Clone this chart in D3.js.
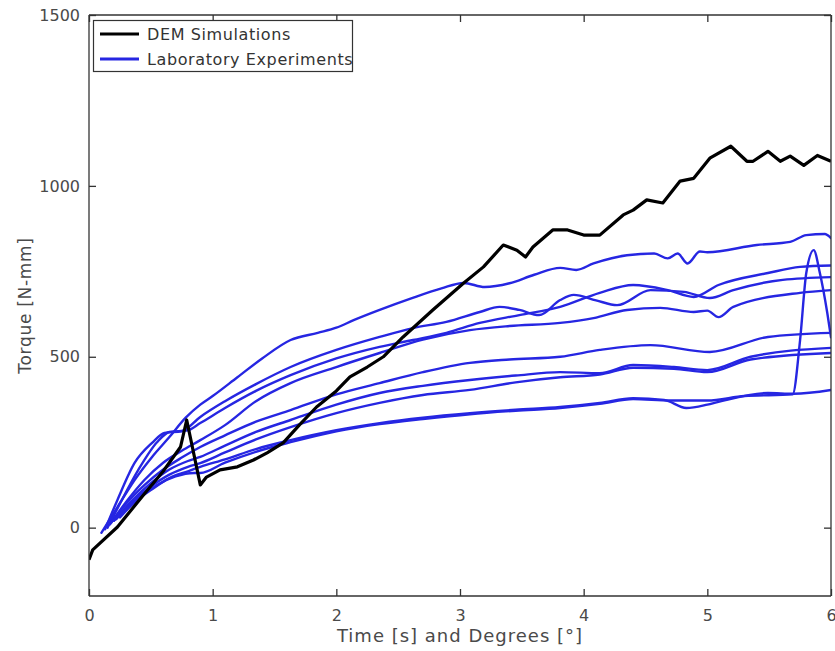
<!DOCTYPE html>
<html><head><meta charset="utf-8">
<script src="https://cdn.jsdelivr.net/npm/d3@7"></script>
<style>
html,body{margin:0;padding:0;background:#fff;}
svg text{font-family:"DejaVu Sans",Verdana,sans-serif;}
</style></head>
<body>
<svg id="c" width="835" height="651"></svg>
<script>
// ---------- data ----------
const xTicks = [0,1,2,3,4,5,6];
const yTicks = [0,500,1000,1500];
const xLabel = "Time [s] and Degrees [°]";
const yLabel = "Torque [N-mm]";
const legendLabels = ["DEM Simulations","Laboratory Experiments"];

const demSim = [[0,-94],[0.03,-65],[0.23,2],[0.45,100],[0.6,165],[0.74,236],[0.79,315],[0.9,125],[0.95,148],[1.06,169],[1.2,178],[1.33,198],[1.44,219],[1.57,248],[1.7,300],[1.84,353],[2.0,400],[2.11,441],[2.25,470],[2.38,500],[2.54,558],[2.78,637],[3.03,716],[3.19,763],[3.35,827],[3.46,812],[3.53,792],[3.59,821],[3.75,871],[3.87,871],[4.0,856],[4.13,856],[4.32,915],[4.4,929],[4.51,959],[4.64,950],[4.78,1014],[4.89,1022],[5.02,1081],[5.19,1116],[5.32,1072],[5.37,1072],[5.49,1101],[5.59,1072],[5.67,1087],[5.78,1060],[5.89,1089],[6.0,1072]];

const expA = [[0.10,-15],[0.23,60],[0.37,140],[0.51,207],[0.65,265],[0.78,321],[0.9,360],[1.0,385],[1.2,440],[1.4,495],[1.63,549],[1.85,570],[2.0,585],[2.14,607],[2.35,637],[2.6,670],[2.85,700],[3.03,716],[3.2,704],[3.4,715],[3.6,740],[3.81,760],[3.94,754],[4.08,773],[4.35,797],[4.57,802],[4.68,788],[4.76,802],[4.84,773],[4.94,808],[5.0,806],[5.4,827],[5.67,836],[5.8,856],[5.95,859],[6.0,847]];
const expB = [[0.15,0],[0.25,70],[0.4,170],[0.55,250],[0.65,280],[0.8,285],[0.9,306],[1.1,350],[1.35,400],[1.63,446],[2.0,495],[2.35,529],[2.62,549],[2.89,570],[3.16,599],[3.48,622],[3.81,646],[4.13,687],[4.40,710],[4.68,695],[4.89,675],[5.09,710],[5.49,745],[5.75,763],[6.0,767]];
const expC = [[0.13,-5],[0.23,81],[0.37,190],[0.51,248],[0.61,277],[0.75,282],[0.9,324],[1.1,370],[1.35,420],[1.63,470],[2.0,520],[2.35,558],[2.62,584],[2.89,602],[3.16,631],[3.32,646],[3.48,637],[3.64,622],[3.81,666],[3.92,681],[4.1,665],[4.27,651],[4.54,695],[4.81,690],[5.02,672],[5.21,695],[5.61,725],[6.0,733]];
const expD = [[0.17,10],[0.3,75],[0.45,140],[0.6,190],[0.75,225],[0.9,256],[1.1,300],[1.35,370],[1.63,423],[2.0,470],[2.35,511],[2.7,550],[3.08,578],[3.4,590],[3.81,599],[4.08,613],[4.35,637],[4.62,643],[4.89,631],[5.0,635],[5.09,616],[5.21,646],[5.75,687],[6.0,695]];
const expE = [[0.18,15],[0.3,70],[0.45,125],[0.6,170],[0.75,205],[0.9,236],[1.1,270],[1.35,310],[1.63,344],[2.0,390],[2.35,423],[2.7,455],[3.08,482],[3.4,492],[3.81,500],[4.13,520],[4.54,534],[5.02,514],[5.49,558],[6.0,570]];
const expF = [[0.2,20],[0.35,80],[0.5,130],[0.65,170],[0.8,195],[0.9,207],[1.1,240],[1.35,280],[1.63,315],[2.0,360],[2.35,394],[2.7,415],[3.08,432],[3.45,445],[3.81,455],[4.13,452],[4.4,476],[4.73,470],[5.0,461],[5.35,500],[6.0,526]];
const expG = [[0.22,25],[0.35,75],[0.5,120],[0.65,155],[0.8,178],[0.9,189],[1.1,220],[1.35,258],[1.63,294],[2.0,335],[2.35,365],[2.7,388],[3.08,403],[3.45,425],[3.81,440],[4.13,448],[4.4,468],[4.73,465],[5.0,455],[5.35,492],[6.0,511]];
const expH = [[0.2,20],[0.35,70],[0.5,110],[0.65,145],[0.8,165],[0.9,178],[1.1,200],[1.35,230],[1.63,256],[2.0,285],[2.35,306],[2.7,322],[3.08,335],[3.45,345],[3.81,353],[4.13,365],[4.4,379],[4.65,374],[4.83,350],[5.0,360],[5.09,368],[5.49,394],[5.7,392],[6.0,403]];
const expS = [[0.25,30],[0.4,85],[0.55,125],[0.7,150],[0.85,160],[0.9,160],[1.1,190],[1.35,222],[1.63,250],[2.0,282],[2.35,303],[2.7,318],[3.08,332],[3.45,342],[3.81,350],[4.13,362],[4.4,376],[4.7,372],[5.0,372],[5.3,385],[5.69,390],[5.75,549],[5.80,745],[5.86,812],[5.91,745],[5.97,628],[6.0,557]];
const experiments = [expA,expB,expC,expD,expE,expF,expG,expH,expS];

// ---------- layout ----------
const svg = d3.select("#c");
const L = 89, R = 831, T = 15, B = 596;
const x = d3.scaleLinear().domain([0,6]).range([L,R]);
const y = d3.scaleLinear().domain([-200,1500]).range([B,T]);
const axisColor = "#333", textColor = "#4a4a4a";
const blue = "#2626e2";

const smooth = d3.line().x(d=>x(d[0])).y(d=>y(d[1])).curve(d3.curveMonotoneX);
const lineLin = d3.line().x(d=>x(d[0])).y(d=>y(d[1]));

svg.append("defs").append("clipPath").attr("id","clip")
  .append("rect").attr("x",L).attr("y",T).attr("width",R-L).attr("height",B-T);

const plot = svg.append("g").attr("clip-path","url(#clip)");
plot.selectAll("path.exp").data(experiments).join("path")
  .attr("class","exp").attr("d",smooth)
  .attr("fill","none").attr("stroke",blue).attr("stroke-width",2.4)
  .attr("stroke-linejoin","round").attr("stroke-linecap","round");
plot.append("path").datum(demSim).attr("d",lineLin)
  .attr("fill","none").attr("stroke","#000").attr("stroke-width",3.2)
  .attr("stroke-linejoin","round");

// axes (ticks inward, mirrored)
const tk = 7;
const gB = svg.append("g").attr("transform",`translate(0,${B})`)
  .call(d3.axisBottom(x).tickValues(xTicks).tickSize(-tk).tickPadding(14).tickFormat(d3.format("d")));
const gT = svg.append("g").attr("transform",`translate(0,${T})`)
  .call(d3.axisTop(x).tickValues(xTicks).tickSize(-tk).tickFormat(""));
const gL = svg.append("g").attr("transform",`translate(${L},0)`)
  .call(d3.axisLeft(y).tickValues(yTicks).tickSize(-tk).tickPadding(9).tickFormat(d3.format("d")));
const gR = svg.append("g").attr("transform",`translate(${R},0)`)
  .call(d3.axisRight(y).tickValues(yTicks).tickSize(-tk).tickFormat(""));
[gB,gT,gL,gR].forEach(g=>{
  g.select(".domain").attr("stroke",axisColor).attr("stroke-width",1.3);
  g.selectAll(".tick line").attr("stroke",axisColor).attr("stroke-width",1.3);
  g.selectAll(".tick text").attr("fill",textColor).style("font-size","16px")
    .style("font-family","'DejaVu Sans',Verdana,sans-serif");
});
gB.select(".domain").attr("d",`M${L},0H${R}`);
gT.select(".domain").attr("d",`M${L},0H${R}`);
gL.select(".domain").attr("d",`M0,${B}V${T}`);
gR.select(".domain").attr("d",`M0,${B}V${T}`);

// axis labels
svg.append("text").attr("x",(L+R)/2).attr("y",642).attr("text-anchor","middle")
  .attr("fill",textColor).style("font-size","18px").style("letter-spacing","1px").text(xLabel);
svg.append("text").attr("transform",`translate(31,${(T+B)/2}) rotate(-90)`)
  .attr("text-anchor","middle").attr("fill",textColor).style("font-size","17px")
  .style("letter-spacing","0.7px").text(yLabel);

// legend
const lg = svg.append("g");
lg.append("rect").attr("x",93.5).attr("y",20.5).attr("width",259).attr("height",51)
  .attr("fill","#fff").attr("stroke",axisColor).attr("stroke-width",1.2);
const lcolors = ["#000",blue];
legendLabels.forEach((t,i)=>{
  const yy = 34 + i*25;
  lg.append("line").attr("x1",100).attr("x2",139).attr("y1",yy).attr("y2",yy)
    .attr("stroke",lcolors[i]).attr("stroke-width",3);
  lg.append("text").attr("x",147).attr("y",yy+6).attr("fill","#333")
    .style("font-size","16px").style("letter-spacing","0.6px").text(t);
});
</script>
</body></html>
